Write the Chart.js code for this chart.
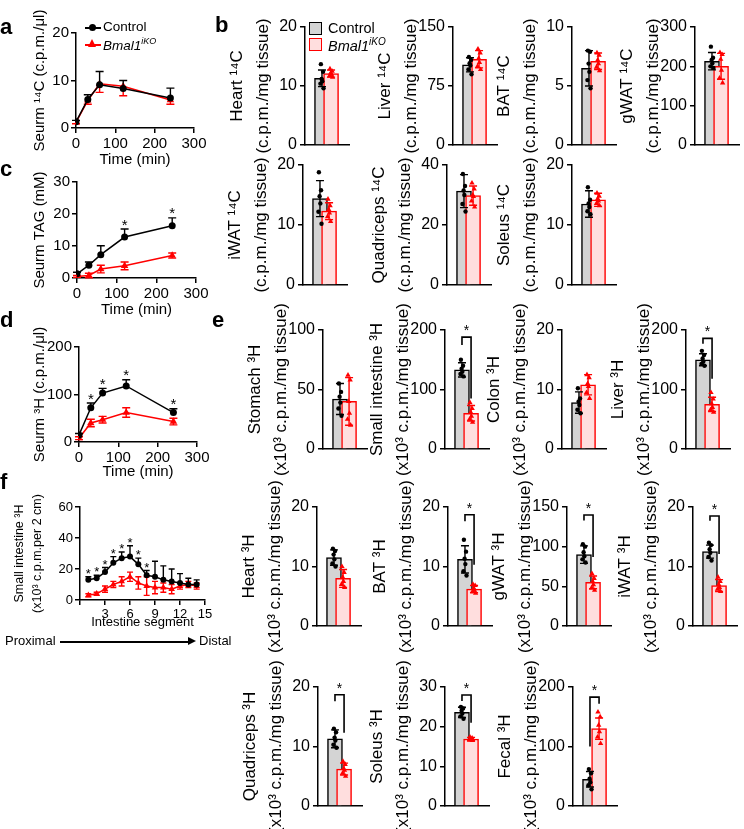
<!DOCTYPE html>
<html>
<head>
<meta charset="utf-8">
<script src="https://cdn.jsdelivr.net/npm/chart.js@4.4.1/dist/chart.umd.min.js"></script>
<style>
  body { margin: 0; background: #fff; }
  #fig { position: relative; width: 744px; height: 829px; overflow: hidden; font-family: 'Liberation Sans', Arial, sans-serif; color: #000; }
  #fig canvas { position: absolute; }
  .txt { position: absolute; white-space: nowrap; line-height: 1; }
  .letter { font-weight: bold; font-size: 22px; }
  .key { position: absolute; }
</style>
</head>
<body>
<div id="fig"></div>
<script>
// ---- data: serum time courses (a, c, d) ----
const times = [0, 30, 60, 120, 240];
const aCtrl = [1.3, 6.0, 9.1, 8.3, 6.3];
const aCtrlErr = [0.3, 1.0, 2.8, 1.7, 2.1];
const aKo = [1.2, 5.8, 9.3, 8.8, 5.9];
const aKoErr = [0.3, 0.8, 1.8, 2.0, 0.9];

const cCtrl = [1.3, 4.0, 7.3, 12.8, 16.3];
const cCtrlErr = [0.5, 1.0, 2.8, 2.5, 2.5];
const cKo = [0.5, 0.8, 2.8, 3.8, 7.0];
const cKoErr = [0.3, 0.7, 1.2, 1.2, 0.8];
const cStars = [120, 240];

const dCtrl = [15, 72, 103, 118, 62];
const dCtrlErr = [3, 10, 10, 13, 8];
const dKo = [8, 40, 47, 62, 43];
const dKoErr = [3, 8, 7, 10, 7];
const dStars = [30, 60, 120, 240];

// ---- data: small intestine segments (f) ----
const segments = [1, 2, 3, 4, 5, 6, 7, 8, 9, 10, 11, 12, 13, 14];
const fCtrl = [13, 14, 18, 24, 27, 28, 23, 16, 15, 13, 12, 11, 10, 10];
const fCtrlErr = [2, 2, 3, 4, 4, 7, 4, 3, 10, 9, 8, 6, 4, 3];
const fKo = [3, 4, 7, 10, 12, 15, 11, 9, 8, 8, 7, 9, 10, 9];
const fKoErr = [1, 1, 2, 2, 3, 3, 4, 6, 4, 3, 3, 2, 2, 2];
const fStars = [1, 2, 3, 4, 5, 6, 7, 8];

// ---- data: 14C tissue uptake (b) ----
const bTissues = ['Heart', 'Liver', 'BAT', 'gWAT', 'iWAT', 'Quadriceps', 'Soleus'];
const bMax = [20, 150, 10, 300, 20, 40, 20];
const bStep = [10, 75, 5, 100, 10, 20, 10];
const bCtrlMean = [11.3, 102, 6.5, 213, 14.4, 31.3, 13.5];
const bCtrlSd = [1.4, 9, 1.5, 22, 3, 5.5, 2.2];
const bKoMean = [12.1, 109, 7.1, 200, 12.3, 29.8, 14.2];
const bKoSd = [0.6, 11, 0.7, 33, 1.4, 3.2, 1.1];
const bCtrlPts = [[13.7, 12.4, 11.2, 10.8, 10.4, 9.6], [112, 108, 104, 101, 96, 90], [8.0, 7.9, 6.9, 6.2, 5.5, 4.8],
  [250, 222, 216, 208, 200, 196], [18.8, 15.8, 14.8, 13.6, 12.2, 10.2], [37, 33, 31.5, 30, 27, 24.5], [16.3, 14.2, 13.6, 13.0, 12.3, 11.8]];
const bKoPts = [[12.9, 12.5, 12.2, 12, 11.7, 11.5], [122, 117, 110, 105, 100, 96], [7.8, 7.6, 7.2, 6.9, 6.6, 6.3],
  [235, 230, 218, 190, 170, 158], [14.3, 13.2, 12.6, 12, 11.4, 10.6], [34, 32, 30, 29.5, 28, 26], [15.3, 14.8, 14.4, 14, 13.6, 13.2]];

// ---- data: 3H tissue uptake (e) ----
const eTissues = ['Stomach', 'Small intestine', 'Colon', 'Liver', 'Heart', 'BAT', 'gWAT', 'iWAT', 'Quadriceps', 'Soleus', 'Fecal'];
const eMax = [100, 200, 20, 200, 20, 20, 150, 20, 20, 30, 200];
const eStep = [50, 100, 10, 100, 10, 10, 50, 10, 10, 10, 100];
const eCtrlMean = [42, 133, 7.8, 150, 11.5, 11.2, 90, 12.5, 11.3, 23.6, 45];
const eCtrlSd = [13, 12, 1.8, 10, 1.3, 2.3, 11, 1.1, 1.5, 1.3, 13];
const eKoMean = [40, 60, 10.8, 75, 8, 6.2, 55, 6.8, 6.2, 16.9, 130];
const eKoSd = [20, 13, 1.7, 12, 1.5, 0.6, 8, 1.0, 1.0, 0.4, 18];
const eCtrlPts = [[55, 48, 44, 39, 34, 28], [150, 140, 135, 130, 126, 122], [10.2, 8.5, 8, 7.4, 6.6, 6.0], [165, 158, 152, 147, 143, 140],
  [13, 12.6, 12, 11.2, 10.5, 10], [14.5, 12.5, 11.3, 10.4, 9.2, 8.5], [103, 100, 93, 88, 84, 80], [14, 13.6, 12.9, 12.3, 11.6, 11],
  [13, 12.4, 11.5, 11, 10.3, 9.8], [25, 24.6, 24, 23.3, 22.6, 22], [62, 55, 46, 40, 35, 28]];
const eKoPts = [[62, 58, 40, 30, 25, 20], [78, 68, 62, 55, 50, 45], [12.5, 12, 11, 10.5, 9.5, 8.5], [95, 84, 76, 70, 66, 62],
  [10, 9, 8.2, 7.5, 7, 6.5], [7, 6.8, 6.4, 6, 5.8, 5.5], [66, 60, 56, 52, 48, 45], [8.2, 7.5, 7, 6.5, 6.2, 5.8],
  [7.5, 7, 6.3, 6, 5.5, 5.0], [17.4, 17.1, 16.9, 16.7, 16.6, 16.5], [158, 150, 136, 125, 116, 105]];
// significance bracket: [bracket height, left leg end, right leg end]
const eSig = [null, [188, 175, 85], null, [186, 177, 118], null, [18.7, 17.6, 10.3], [140, 133, 87], [18.5, 17.7, 12.1],
  [18.7, 17.6, 12.3], [28, 26.5, 21], [183, 100, 172]];

const FONT = "'Liberation Sans', Arial, sans-serif";
const RED = '#ff0000';
Chart.defaults.font.family = FONT;
Chart.defaults.color = '#000';
Chart.defaults.animation = false;
Chart.defaults.responsive = false;
Chart.defaults.plugins.legend.display = false;
Chart.defaults.plugins.tooltip.enabled = false;

const fig = document.getElementById('fig');

function addCanvas(left, top, w, h) {
  const c = document.createElement('canvas');
  c.width = w; c.height = h;
  c.style.left = left + 'px'; c.style.top = top + 'px';
  fig.appendChild(c);
  return c.getContext('2d');
}

function addText(html, left, top, size, extra) {
  const d = document.createElement('div');
  d.className = 'txt';
  d.innerHTML = html;
  d.style.left = left + 'px'; d.style.top = top + 'px';
  d.style.fontSize = size + 'px';
  if (extra) Object.assign(d.style, extra);
  fig.appendChild(d);
  return d;
}

const axisStyle = (fs) => ({
  grid: { drawOnChartArea: false, tickLength: 5, color: '#000', lineWidth: 1.5 },
  border: { color: '#000', width: 1.5 },
  ticks: { font: { size: fs }, padding: 2, color: '#000' }
});

// error bars for datasets that carry an `err` array
const errPlugin = {
  id: 'errBars',
  afterDatasetDraw(chart, args) {
    const ds = chart.data.datasets[args.index];
    if (!ds.err) return;
    const { ctx, scales: { x, y } } = chart;
    ctx.save();
    ctx.lineWidth = 1.4;
    ds.data.forEach((p, j) => {
      const col = Array.isArray(ds.borderColor) ? ds.borderColor[j] : ds.borderColor;
      ctx.strokeStyle = col;
      const e = ds.err[j];
      const dir = ds.errDir || 'both';
      const px = x.getPixelForValue(p.x);
      const hi = y.getPixelForValue(p.y + (dir === 'down' ? 0 : e));
      const lo = y.getPixelForValue(p.y - (dir === 'up' ? 0 : e));
      const cap = ds.cap || 3.5;
      ctx.beginPath();
      ctx.moveTo(px, lo); ctx.lineTo(px, hi);
      if (dir !== 'down') { ctx.moveTo(px - cap, hi); ctx.lineTo(px + cap, hi); }
      if (dir !== 'up') { ctx.moveTo(px - cap, lo); ctx.lineTo(px + cap, lo); }
      ctx.stroke();
    });
    ctx.restore();
  }
};

function starPlugin(xs, ys, errs, fs) {
  return {
    id: 'stars',
    afterDraw(chart) {
      const { ctx, scales: { x, y } } = chart;
      ctx.save();
      ctx.font = fs + 'px ' + FONT;
      ctx.textAlign = 'center';
      ctx.textBaseline = 'bottom';
      ctx.fillStyle = '#000';
      xs.forEach(t => {
        const i = chart.data.datasets[0].data.findIndex(p => p.x === t);
        ctx.fillText('*', x.getPixelForValue(t), y.getPixelForValue(ys[i] + errs[i]) + 4);
      });
      ctx.restore();
    }
  };
}

function lineChart(o) {
  const padTop = 30, padRight = 20;
  const w = o.xEnd + padRight;
  const h = (o.yZero - o.yTop) + padTop + o.xAxisH;
  const ctx = addCanvas(0, o.yTop - padTop, w, h);
  const series = (ys, err, dir, color, style, r) => ({
    data: o.xs.map((x, i) => ({ x, y: ys[i] })),
    err, errDir: dir, cap: o.cap,
    borderColor: color, backgroundColor: color, borderWidth: 1.5,
    pointStyle: style, pointRadius: r, pointBorderWidth: 0, tension: 0
  });
  const ax = axisStyle(o.fs);
  new Chart(ctx, {
    type: 'line',
    data: {
      datasets: [
        series(o.ctrl, o.ctrlErr, 'up', '#000', 'circle', o.r),
        series(o.ko, o.koErr, o.koDir, RED, 'triangle', o.r + 0.8)
      ]
    },
    options: {
      layout: { padding: { top: padTop, right: padRight, left: 0, bottom: 0 } },
      scales: {
        x: {
          type: 'linear', min: 0, max: o.xMax,
          afterFit: s => { s.height = o.xAxisH; },
          grid: ax.grid, border: ax.border,
          ticks: { ...ax.ticks, stepSize: o.xStep, maxRotation: 0, autoSkip: false,
            callback: v => (o.xLabels.includes(v) ? String(v) : '') },
          title: { display: !!o.xTitle, text: o.xTitle, font: { size: o.fs, lineHeight: 1.2 }, padding: 0 }
        },
        y: {
          min: 0, max: o.yMax,
          afterFit: s => { s.width = o.axisX; },
          grid: ax.grid, border: ax.border,
          ticks: { ...ax.ticks, stepSize: o.yStep },
          title: { display: true, text: o.yTitle, font: { size: o.tfs, lineHeight: o.tlh }, padding: { top: o.tpad } }
        }
      }
    },
    plugins: [errPlugin, starPlugin(o.stars || [], o.ctrl, o.ctrlErr, o.fs)]
  });
}

const jitter = [-0.12, 0.12, -0.04, 0.04, -0.17, 0.17];

const sigPlugin = (sig) => ({
  id: 'sig',
  afterDraw(chart) {
    if (!sig) return;
    const { ctx, scales: { x, y } } = chart;
    const xl = x.getPixelForValue(0), xr = x.getPixelForValue(1);
    const yb = y.getPixelForValue(sig[0]);
    ctx.save();
    ctx.strokeStyle = '#000'; ctx.lineWidth = 1.6;
    ctx.beginPath();
    ctx.moveTo(xl, y.getPixelForValue(sig[1]));
    ctx.lineTo(xl, yb); ctx.lineTo(xr, yb);
    ctx.lineTo(xr, y.getPixelForValue(sig[2]));
    ctx.stroke();
    ctx.font = '14px ' + FONT;
    ctx.textAlign = 'center'; ctx.textBaseline = 'bottom'; ctx.fillStyle = '#000';
    ctx.fillText('*', (xl + xr) / 2, yb + 1);
    ctx.restore();
  }
});

function barChart(o) {
  const padV = 70, yw = 85, plotW = 46, unit = 19;
  const ctx = addCanvas(o.axisX - yw, o.yTop - padV, yw + plotW + 2, (o.yZero - o.yTop) + 2 * padV);
  const xMin = -12.5 / unit;
  const pts = (vals, g) => vals.map((v, i) => ({ x: g + jitter[i % jitter.length], y: v }));
  const ax = axisStyle(16);
  new Chart(ctx, {
    type: 'bar',
    data: {
      datasets: [
        { type: 'scatter', data: pts(o.cPts, 0), pointStyle: 'circle', pointRadius: 2.2, pointBorderWidth: 0,
          backgroundColor: '#000', borderColor: '#000' },
        { type: 'scatter', data: pts(o.kPts, 1), pointStyle: 'triangle', pointRadius: 3.1, pointBorderWidth: 0,
          backgroundColor: RED, borderColor: RED },
        { type: 'bar', data: [{ x: 0, y: o.mean[0] }, { x: 1, y: o.mean[1] }], err: o.sd, cap: 4,
          backgroundColor: ['#d4d4d4', '#ffdede'], borderColor: ['#000', RED], borderWidth: 1.5, barThickness: 15 }
      ]
    },
    options: {
      layout: { padding: { top: padV, bottom: padV, left: 0, right: 2 } },
      scales: {
        x: {
          type: 'linear', min: xMin, max: xMin + plotW / unit,
          afterFit: s => { s.height = 0; },
          grid: { display: false }, ticks: { display: false }, border: ax.border
        },
        y: {
          min: 0, max: o.max,
          afterFit: s => { s.width = yw; },
          grid: ax.grid, border: ax.border,
          ticks: { ...ax.ticks, stepSize: o.step, padding: 3 },
          title: { display: true, text: o.title, font: { size: 17, lineHeight: 1.5 }, padding: { top: 5 } }
        }
      }
    },
    plugins: [errPlugin, sigPlugin(o.sig)]
  });
}

// ---- panels a, c, d, f ----
lineChart({ xs: times, ctrl: aCtrl, ctrlErr: aCtrlErr, ko: aKo, koErr: aKoErr, koDir: 'down',
  axisX: 76, xEnd: 194, yTop: 33, yZero: 128, xMax: 300, xStep: 100, xLabels: [0, 100, 200, 300],
  yMax: 20, yStep: 10, fs: 15, tfs: 15, tlh: 1.2, tpad: 31, r: 3.5, cap: 4, xAxisH: 41,
  xTitle: 'Time (min)', yTitle: 'Seurm ¹⁴C (c.p.m./μl)' });

lineChart({ xs: times, ctrl: cCtrl, ctrlErr: cCtrlErr, ko: cKo, koErr: cKoErr, koDir: 'both', stars: cStars,
  axisX: 77, xEnd: 196, yTop: 182, yZero: 278, xMax: 300, xStep: 100, xLabels: [0, 100, 200, 300],
  yMax: 30, yStep: 10, fs: 15, tfs: 15, tlh: 1.2, tpad: 31, r: 3.5, cap: 4, xAxisH: 41,
  xTitle: 'Time (min)', yTitle: 'Seurm TAG (mM)' });

lineChart({ xs: times, ctrl: dCtrl, ctrlErr: dCtrlErr, ko: dKo, koErr: dKoErr, koDir: 'both', stars: dStars,
  axisX: 79, xEnd: 197, yTop: 347, yZero: 442, xMax: 300, xStep: 100, xLabels: [0, 100, 200, 300],
  yMax: 200, yStep: 100, fs: 15, tfs: 15, tlh: 1.2, tpad: 31, r: 3.5, cap: 4, xAxisH: 39,
  xTitle: 'Time (min)', yTitle: 'Seurm ³H (c.p.m./μl)' });

lineChart({ xs: segments, ctrl: fCtrl, ctrlErr: fCtrlErr, ko: fKo, koErr: fKoErr, koDir: 'both', stars: fStars,
  axisX: 80, xEnd: 205, yTop: 507, yZero: 600, xMax: 15, xStep: 3, xLabels: [3, 6, 9, 12, 15],
  yMax: 60, yStep: 20, fs: 13, tfs: 12.5, tlh: 1.45, tpad: 10, r: 3, cap: 3, xAxisH: 30,
  xTitle: 'Intestine segment', yTitle: ['Small intestine ³H', '(x10³ c.p.m.per 2 cm)'] });

// ---- panel b ----
const bPos = [[305, 27, 145], [453, 27, 145], [572, 27, 145], [695, 27, 145],
  [303, 165, 285], [447, 165, 285], [572, 165, 285]];
bTissues.forEach((t, i) => barChart({
  axisX: bPos[i][0], yTop: bPos[i][1], yZero: bPos[i][2], max: bMax[i], step: bStep[i],
  title: [t + ' ¹⁴C', '(c.p.m./mg tissue)'],
  mean: [bCtrlMean[i], bKoMean[i]], sd: [bCtrlSd[i], bKoSd[i]], cPts: bCtrlPts[i], kPts: bKoPts[i], sig: null
}));

// ---- panel e ----
const ePos = [[323, 330, 449], [445, 330, 449], [562, 330, 449], [686, 330, 449],
  [317, 507, 626], [448, 507, 626], [567, 507, 626], [693, 507, 626],
  [318, 687, 806], [445, 687, 806], [573, 687, 806]];
eTissues.forEach((t, i) => barChart({
  axisX: ePos[i][0], yTop: ePos[i][1], yZero: ePos[i][2], max: eMax[i], step: eStep[i],
  title: [t + ' ³H', '(x10³ c.p.m./mg tissue)'],
  mean: [eCtrlMean[i], eKoMean[i]], sd: [eCtrlSd[i], eKoSd[i]], cPts: eCtrlPts[i], kPts: eKoPts[i], sig: eSig[i]
}));

// ---- panel letters ----
[['a', 0, 16], ['b', 215, 14], ['c', 0, 158], ['d', 0, 309], ['e', 212, 309], ['f', 0, 471]].forEach(([l, x, y]) => {
  const d = addText(l, x, y, 22); d.classList.add('letter');
});

// ---- legends ----
const lineKey = (color, shape, top) => {
  const k = document.createElement('div');
  k.className = 'key';
  k.style.cssText = `left:85px;top:${top}px;width:16px;height:1.5px;background:${color};`;
  const m = document.createElement('div');
  if (shape === 'circle') m.style.cssText = `position:absolute;left:4px;top:-3px;width:7px;height:7px;border-radius:50%;background:${color};`;
  else m.style.cssText = `position:absolute;left:3px;top:-5px;width:0;height:0;border-left:4.5px solid transparent;border-right:4.5px solid transparent;border-bottom:8px solid ${color};`;
  k.appendChild(m);
  fig.appendChild(k);
};
lineKey('#000', 'circle', 27);
lineKey(RED, 'triangle', 44);
addText('Control', 103, 20, 13.5);
addText('<i>Bmal1</i><sup style="font-size:9px;font-style:italic">iKO</sup>', 103, 37, 13.5);

const boxKey = (fill, stroke, top) => {
  const k = document.createElement('div');
  k.className = 'key';
  k.style.cssText = `left:309px;top:${top}px;width:11px;height:11px;background:${fill};border:1.5px solid ${stroke};`;
  fig.appendChild(k);
};
boxKey('#d4d4d4', '#000', 22);
boxKey('#ffdede', RED, 38);
addText('Control', 328, 21, 14.5);
addText('<i>Bmal1</i><sup style="font-size:10px;font-style:italic">iKO</sup>', 328, 37, 14.5);

// ---- proximal / distal arrow under f ----
addText('Proximal', 5, 634, 13);
const arrow = document.createElement('div');
arrow.style.cssText = 'position:absolute;left:60px;top:641px;width:130px;height:1.5px;background:#000;';
const head = document.createElement('div');
head.style.cssText = 'position:absolute;right:-6px;top:-4px;width:0;height:0;border-top:4.5px solid transparent;border-bottom:4.5px solid transparent;border-left:8px solid #000;';
arrow.appendChild(head);
fig.appendChild(arrow);
addText('Distal', 199, 634, 13);
</script>
</body>
</html>
